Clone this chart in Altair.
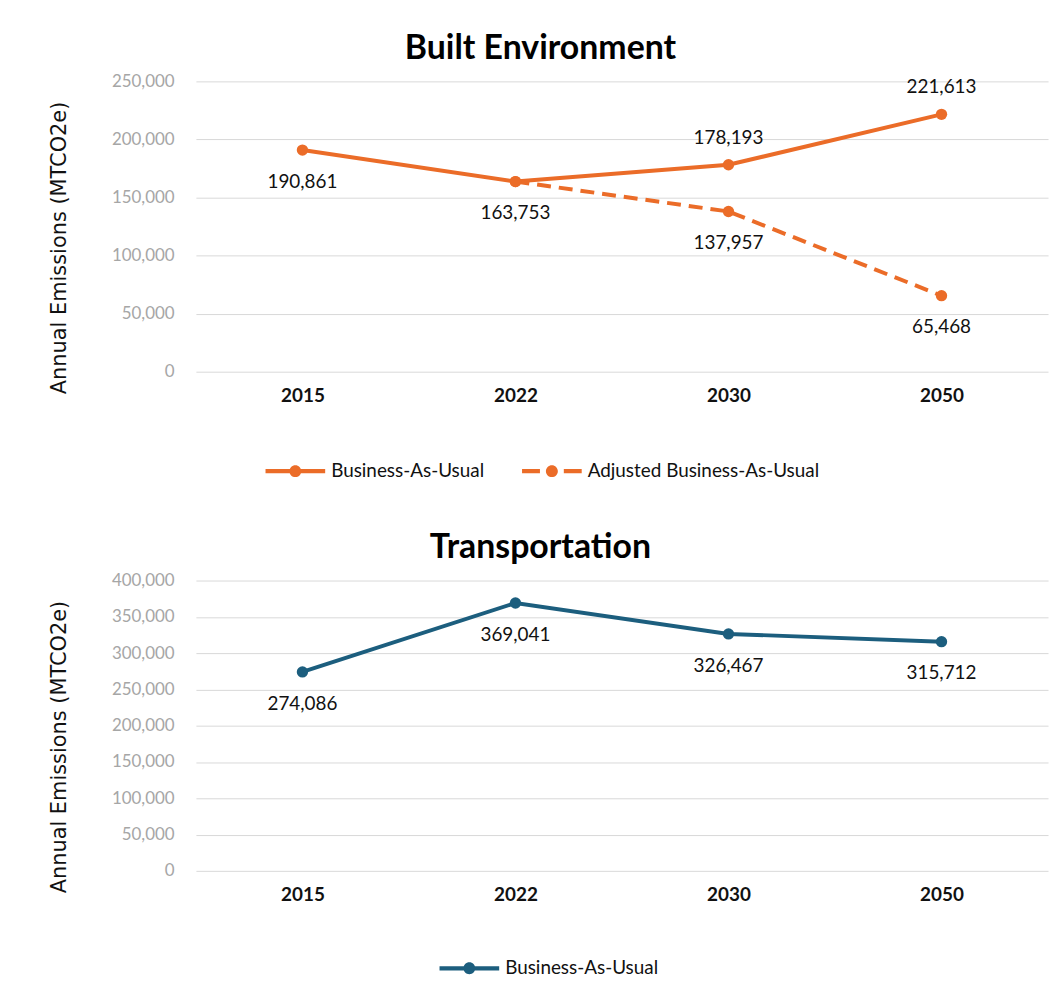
import altair as alt
import pandas as pd

# ---------------- data ----------------
years = ["2015", "2022", "2030", "2050"]

built_bau_values = [190861, 163753, 178193, 221613]
built_adj_years = ["2022", "2030", "2050"]
built_adj_values = [163753, 137957, 65468]

transport_bau_values = [274086, 369041, 326467, 315712]

series_bau = "Business-As-Usual"
series_adj = "Adjusted Business-As-Usual"

built_y_ticks = [0, 50000, 100000, 150000, 200000, 250000]
transport_y_ticks = [0, 50000, 100000, 150000, 200000, 250000, 300000, 350000, 400000]

# labels placed above their point (all others sit below)
built_labels_above = [(series_bau, "2030"), (series_bau, "2050")]

# ---------------- style ----------------
ORANGE = "#EB6C28"
BLUE = "#1C5E7E"
FONT = "Lato"
TITLE_FONT = "DejaVu Sans"
W, H = 857, 292

CIRCLE = ("M0.2,0 C0.2,0.11 0.11,0.2 0,0.2 C-0.11,0.2 -0.2,0.11 -0.2,0 "
          "C-0.2,-0.11 -0.11,-0.2 0,-0.2 C0.11,-0.2 0.2,-0.11 0.2,0 Z")
SOLID_PATH = "M-1,-0.07 L1,-0.07 L1,0.07 L-1,0.07 Z " + CIRCLE
DASH_PATH = ("M-1,-0.07 L-0.4,-0.07 L-0.4,0.07 L-1,0.07 Z "
             "M0.4,-0.07 L1,-0.07 L1,0.07 L0.4,0.07 Z " + CIRCLE)

df_built = pd.DataFrame({
    "year": years + built_adj_years,
    "value": built_bau_values + built_adj_values,
    "series": [series_bau] * len(years) + [series_adj] * len(built_adj_years),
})
df_built["above"] = [(s, y) in built_labels_above for s, y in zip(df_built.series, df_built.year)]
df_built_labels = df_built.drop_duplicates(subset=["year", "value"])

df_trans = pd.DataFrame({
    "year": years,
    "value": transport_bau_values,
    "series": [series_bau] * len(years),
})
df_trans["above"] = False


def x_enc():
    return alt.X(
        "year:N", sort=years, scale=alt.Scale(type="point", padding=0.5),
        axis=alt.Axis(title=None, labelAngle=0, labelFont=FONT, labelFontSize=19,
                      labelFontWeight="bold", labelColor="#111111", domain=False,
                      ticks=False, labelPadding=15, grid=False),
    )


def y_enc(ticks):
    return alt.Y(
        "value:Q", scale=alt.Scale(domain=[ticks[0], ticks[-1]], nice=False),
        axis=alt.Axis(title="Annual Emissions (MTCO2e)", values=ticks, format=",.0f",
                      labelFont=FONT, labelFontSize=17, labelColor="#A6A6A6",
                      titleFont=TITLE_FONT, titleFontSize=21, titleFontWeight="normal",
                      titleColor="#111111", titlePadding=42, titleY=H / 2 + 21,
                      domain=False, ticks=False,
                      labelPadding=22, grid=True, gridColor="#D9D9D9", gridWidth=1),
    )


def panel(df, df_labels, ticks, color, domain, paths, title, title_size,
          legend_x, legend_y):
    solid = alt.Chart(df).transform_filter(
        alt.datum.series == series_bau).mark_line(strokeWidth=4, color=color)
    dashed = alt.Chart(df).transform_filter(
        alt.datum.series == series_adj).mark_line(strokeWidth=4, color=color, strokeDash=[14, 8])
    pts = alt.Chart(df).mark_circle(size=130, opacity=1, color=color)
    legend_layer = alt.Chart(df).transform_filter("false").mark_point(
        filled=True, opacity=1, color=color
    ).encode(
        shape=alt.Shape(
            "series:N",
            scale=alt.Scale(domain=domain, range=paths),
            legend=alt.Legend(
                title=None, orient="none", legendX=legend_x, legendY=legend_y,
                direction="horizontal", symbolSize=3600, symbolOpacity=1,
                symbolFillColor=color, symbolStrokeWidth=0, labelFont=FONT,
                labelFontSize=19, labelColor="#111111", labelOffset=6,
                columnPadding=37, labelLimit=400,
            ),
        )
    )
    lab_base = alt.Chart(df_labels).encode(text=alt.Text("value:Q", format=","))
    below = lab_base.transform_filter("!datum.above").mark_text(
        font=FONT, fontSize=19, color="#111111", dy=32)
    above = lab_base.transform_filter("datum.above").mark_text(
        font=FONT, fontSize=19, color="#111111", dy=-27)
    return alt.layer(solid, dashed, pts, legend_layer, below, above).encode(
        x=x_enc(), y=y_enc(ticks)
    ).properties(
        width=W, height=H,
        title=alt.TitleParams(title, font=FONT, fontSize=title_size, fontWeight="bold",
                              color="#000000", anchor="middle", offset=7, dx=-82),
    )


top = panel(df_built, df_built_labels, built_y_ticks, ORANGE,
            [series_bau, series_adj], [SOLID_PATH, DASH_PATH],
            "Built Environment", 34, 70, 362)
bottom = panel(df_trans, df_trans, transport_y_ticks, BLUE,
               [series_bau], [SOLID_PATH],
               "Transportation", 34, 245, 360)

chart = alt.vconcat(top, bottom, spacing=50).resolve_scale(
    shape="independent"
).resolve_legend(
    shape="independent"
).properties(
    padding={"left": 40, "top": 21, "right": 5, "bottom": 5},
    background="#FFFFFF",
).configure_view(strokeWidth=0, stroke="transparent")

chart.save("out.html", embed_options={"renderer": "svg", "actions": False})
